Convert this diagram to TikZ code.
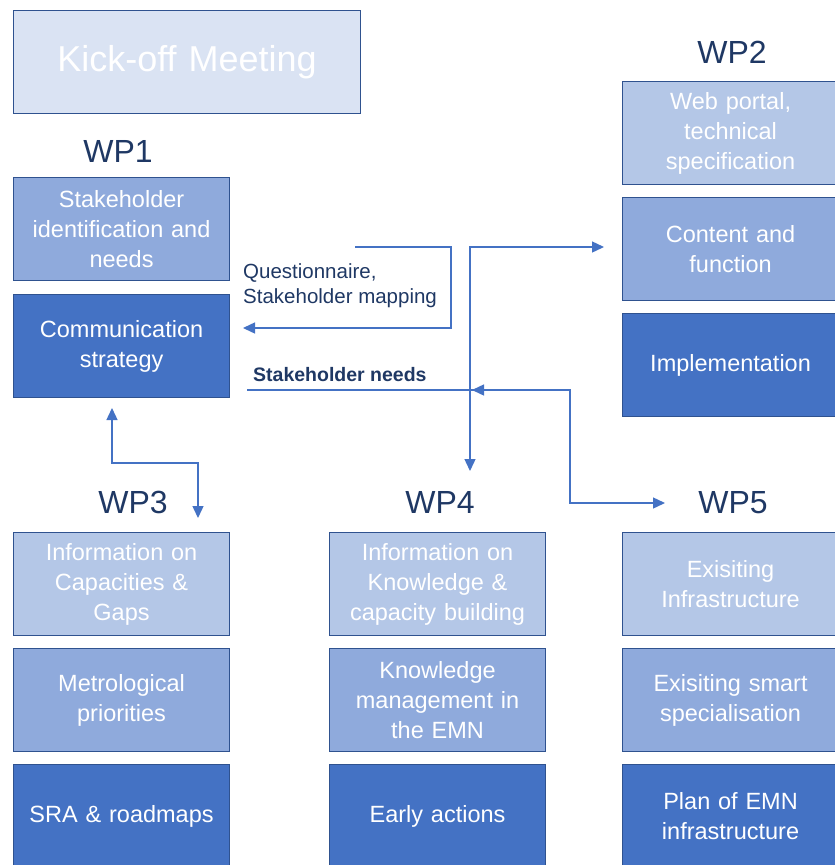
\documentclass[tikz,border=0pt]{standalone}
\usepackage{fontspec}
\setmainfont{Liberation Sans}
\usetikzlibrary{positioning,arrows.meta}
\definecolor{boxkick}{HTML}{DAE3F3}
\definecolor{boxlight}{HTML}{B4C7E7}
\definecolor{boxmid}{HTML}{8FAADC}
\definecolor{boxdark}{HTML}{4472C4}
\definecolor{boxline}{HTML}{2F528F}
\definecolor{wpnavy}{HTML}{1F3864}
\definecolor{flowblue}{HTML}{4472C4}

\begin{document}
\begin{tikzpicture}[x=1pt, y=-1pt,
  >={Triangle[length=12pt,width=11pt]},
  task/.style={draw=boxline, line width=1.1pt,
               minimum width=216pt, minimum height=103pt, inner sep=2pt,
               text width=212pt, align=center, text=white,
               font=\fontsize{23.5}{30}\selectfont, anchor=north west},
  light/.style={task, fill=boxlight},
  mid/.style={task, fill=boxmid},
  dark/.style={task, fill=boxdark},
  wp/.style={font=\fontsize{32}{36}\selectfont, text=wpnavy, anchor=base},
  flow/.style={draw=flowblue, line width=1.4pt},
  note/.style={text=wpnavy, align=left, inner sep=0pt,
               font=\fontsize{20.5}{25}\selectfont},
  ]
  \useasboundingbox (0,0) rectangle (835,865);

  % kick-off
  \node[task, fill=boxkick, minimum width=347pt, text width=340pt,
        font=\fontsize{36}{42}\selectfont] (kick) at (13,10) {Kick-off Meeting};

  % WP1
  \node[wp] (wp1) at (118,162) {WP1};
  \node[mid] (wp1a) at (13,177) {Stakeholder\\identification and\\needs};
  \node[dark, below=13pt of wp1a] (wp1b) {Communication\\strategy};

  % WP2
  \node[wp] (wp2) at (732,63) {WP2};
  \node[light] (wp2a) at (622,81) {Web portal,\\technical\\specification};
  \node[mid, below=12pt of wp2a] (wp2b) {Content and\\function};
  \node[dark, below=12pt of wp2b] (wp2c) {Implementation};

  % WP3
  \node[wp] (wp3) at (133,513) {WP3};
  \node[light] (wp3a) at (13,532) {Information on\\Capacities \&\\Gaps};
  \node[mid, below=12pt of wp3a] (wp3b) {Metrological\\priorities};
  \node[dark, below=12pt of wp3b] (wp3c) {SRA \& roadmaps};

  % WP4
  \node[wp] (wp4) at (440,513) {WP4};
  \node[light] (wp4a) at (329,532) {Information on\\Knowledge \&\\capacity building};
  \node[mid, below=12pt of wp4a] (wp4b) {Knowledge\\management in\\the EMN};
  \node[dark, below=12pt of wp4b] (wp4c) {Early actions};

  % WP5
  \node[wp] (wp5) at (733,513) {WP5};
  \node[light] (wp5a) at (622,532) {Exisiting\\Infrastructure};
  \node[mid, below=12pt of wp5a] (wp5b) {Exisiting smart\\specialisation};
  \node[dark, below=12pt of wp5b] (wp5c) {Plan of EMN\\infrastructure};

  % labels on the flows
  \node[note, anchor=west] (quest) at (243,286) {Questionnaire,\\Stakeholder mapping};
  \node[note, font=\fontsize{19.5}{22}\selectfont\bfseries, anchor=base west]
    (needs) at (253,381) {Stakeholder needs};

  % flow end points
  \coordinate (qstart) at (355,247);
  \coordinate (qend) at (243,328);
  \coordinate (to2) at (604,247);
  \coordinate (to4) at (470,471);
  \coordinate (nstart) at (247,390);
  \coordinate (nbend) at (570,390);
  \coordinate (nhead) at (472,390);
  \coordinate (to5) at (665,503);
  \coordinate (to1) at (112,408);
  \coordinate (to3) at (198,518);

  \draw[flow, ->] (qstart) -- (451,247) |- (qend);
  \draw[flow, <->] (to4) |- (to2);
  \draw[flow, ->] (nstart) -- (nbend) |- (to5);
  \draw[flow, ->] (nbend) -- (nhead);
  \draw[flow, <->] (to1) -- (112,463) -| (to3);
\end{tikzpicture}
\end{document}
